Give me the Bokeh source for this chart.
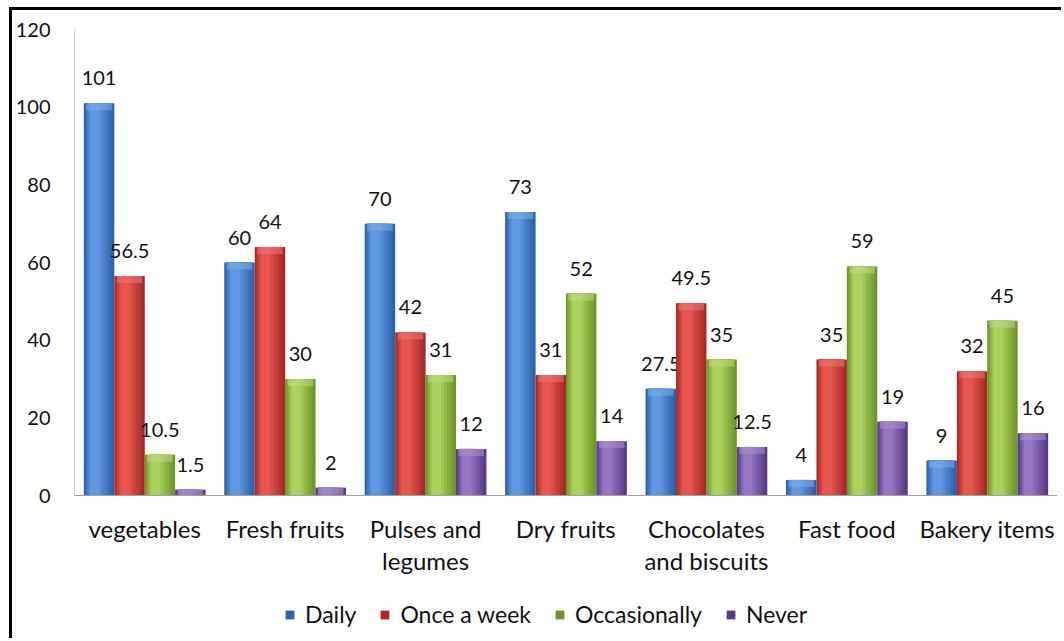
from bokeh.plotting import figure
from bokeh.models import ColumnDataSource, Legend, LegendItem, Range1d
from bokeh.transform import dodge
from bokeh.core.properties import value
from bokeh.embed import file_html
from bokeh.resources import INLINE

categories = ["vegetables", "Fresh fruits", "Pulses and\nlegumes", "Dry fruits",
              "Chocolates\nand biscuits", "Fast food", "Bakery items"]
daily = [101, 60, 70, 73, 27.5, 4, 9]
once_a_week = [56.5, 64, 42, 31, 49.5, 35, 32]
occasionally = [10.5, 30, 31, 52, 35, 59, 45]
never = [1.5, 2, 12, 14, 12.5, 19, 16]
series_names = ["Daily", "Once a week", "Occasionally", "Never"]
y_ticks = [0, 20, 40, 60, 80, 100, 120]

FONT = "Lato"
CAP = 1.8  # height of the lighter bevel at the top of each bar, in data units

def fmt(v):
    return str(int(v)) if float(v).is_integer() else str(v)

def mix(c1, c2, t):
    a = [int(c1[i:i + 2], 16) for i in (1, 3, 5)]
    b = [int(c2[i:i + 2], 16) for i in (1, 3, 5)]
    return "#%02x%02x%02x" % tuple(round(x + (y - x) * t) for x, y in zip(a, b))

data = dict(cat=categories, daily=daily, once=once_a_week, occ=occasionally, never=never,
            zero=[0] * len(categories))
for key, vals in (("daily", daily), ("once", once_a_week), ("occ", occasionally), ("never", never)):
    data[key + "_t"] = [fmt(v) for v in vals]
    data[key + "_cap"] = [max(0, v - CAP) for v in vals]
src = ColumnDataSource(data)

# frame: 0 at canvas y=485, 120 at canvas y=19, bottom of canvas at 631
px_per_unit = (485 - 19) / 120.0
y_bottom = -(631 - 485) / px_per_unit

p = figure(x_range=categories, y_range=Range1d(y_bottom, 120), width=1052, height=631,
           output_backend="svg", toolbar_location=None,
           min_border_left=61, min_border_right=7, min_border_top=19, min_border_bottom=0)
p.styles = {"position": "relative", "left": "12px", "top": "10px",
            "box-shadow": "-3px -3px 0 0 #000000"}
p.outline_line_color = None
p.xgrid.grid_line_color = None
p.ygrid.grid_line_color = None
p.x_range.range_padding = 0
p.background_fill_color = "white"
p.xaxis.visible = False

W = 0.217
offsets = [-0.325, -0.108, 0.108, 0.325]
cols = ["daily", "once", "occ", "never"]
shades = [
    ("#2d62aa", "#5e99e2"),
    ("#a82a27", "#e6564f"),
    ("#6e962a", "#acd25e"),
    ("#583b84", "#9676c4"),
]
fracs = [1.0, 0.86, 0.72, 0.58, 0.44, 0.3]

items = []
for col, off, sh, name in zip(cols, offsets, shades, series_names):
    base = None
    for k, f in enumerate(fracs):
        t = k / (len(fracs) - 1)
        shift = -0.2 * W * (1 - f)
        r = p.vbar(x=dodge("cat", off + shift, range=p.x_range), top=col, width=W * f,
                   source=src, fill_color=mix(sh[0], sh[1], t), line_color=None)
        if base is None:
            base = r
    p.vbar(x=dodge("cat", off, range=p.x_range), top=col, bottom=col + "_cap",
           width=W * 0.84, source=src, fill_color=mix(sh[1], "#ffffff", 0.2),
           fill_alpha=0.55, line_color=None)
    p.text(x=dodge("cat", off, range=p.x_range), y=col, text=col + "_t", source=src,
           text_align="center", text_baseline="bottom", y_offset=-18,
           text_font=value(FONT), text_font_size="20px", text_color="#111111")
    items.append(LegendItem(label=name, renderers=[base]))

# axis lines
edge_src = ColumnDataSource(dict(first=[categories[0]], last=[categories[-1]],
                                 y0=[0], y1=[120]))
p.segment(x0=dodge("first", -0.5, range=p.x_range), y0="y0",
          x1=dodge("first", -0.5, range=p.x_range), y1="y1",
          source=edge_src, line_color="#a0a0a0", line_width=1)
p.segment(x0=dodge("first", -0.5, range=p.x_range), y0="y0",
          x1=dodge("last", 0.5, range=p.x_range), y1="y0",
          source=edge_src, line_color="#a0a0a0", line_width=1.2)

# category labels
p.text(x="cat", y="zero", text="cat", source=src, text_align="center",
       text_baseline="top", y_offset=18, text_font=value(FONT), text_font_size="24px",
       text_color="#111111", text_line_height=1.12)

p.yaxis.ticker = y_ticks
p.yaxis.major_tick_line_color = None
p.yaxis.minor_tick_line_color = None
p.yaxis.axis_line_color = None
p.yaxis.major_label_text_font = FONT
p.yaxis.major_label_text_font_size = "20px"
p.yaxis.major_label_text_color = "#111111"
p.yaxis.major_label_standoff = 18

legend = Legend(items=items, orientation="horizontal", location=(210, 13),
                label_text_font=FONT, label_text_font_size="23px", label_text_color="#111111",
                glyph_width=11, glyph_height=11, spacing=23, label_standoff=10,
                border_line_color=None, background_fill_alpha=0, margin=0, padding=0)
p.add_layout(legend)

open("out.html", "w").write(file_html(p, INLINE))
